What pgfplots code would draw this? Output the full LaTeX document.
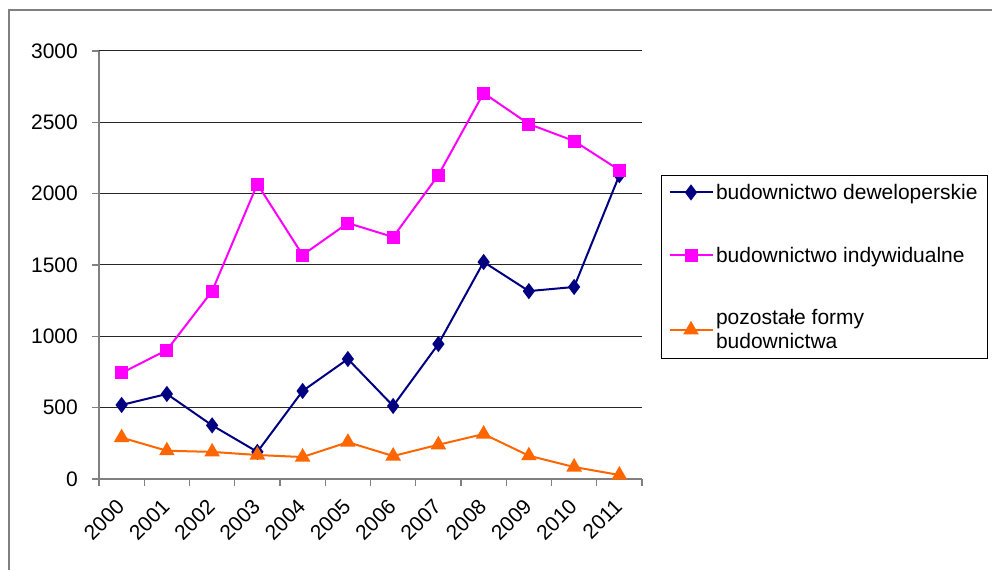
\documentclass[border=0pt]{standalone}
\usepackage{fontspec}
\setmainfont{Liberation Sans}
\usepackage{pgfplots}
\pgfplotsset{compat=1.18}
\definecolor{dev}{RGB}{0,0,128}
\definecolor{ind}{RGB}{255,0,255}
\definecolor{poz}{RGB}{255,102,0}
\definecolor{framec}{RGB}{128,128,128}
\newcommand{\tfont}{\fontsize{21bp}{24bp}\selectfont}
\begin{document}
\begin{tikzpicture}[x=1bp,y=1bp]
\useasboundingbox (0,0) rectangle (992,570);
\draw[framec, line width=2bp] (9,0) -- (9,560) -- (992,560);
\begin{axis}[
  at={(99bp,91bp)}, anchor=south west,
  scale only axis, width=543bp, height=428bp,
  xmin=0, xmax=12, ymin=0, ymax=3000,
  axis x line=bottom, axis y line=left,
  axis line style={framec, line width=1.3bp, -},
  tick align=outside, major tick length=7bp,
  tick style={framec, line width=1.3bp},
  ytick={0,500,...,3000},
  ymajorgrids, grid style={black!85, line width=1bp},
  xtick={0,...,12}, xticklabels={},
  extra x ticks={0.5,1.5,...,11.5},
  extra x tick labels={2000,2001,2002,2003,2004,2005,2006,2007,2008,2009,2010,2011},
  extra x tick style={major tick length=0pt, grid=none,
    tick label style={xshift=-1bp, yshift=-24bp, rotate=45, anchor=east, inner sep=0pt, font=\tfont}},
  every tick label/.append style={font=\tfont},
  yticklabel style={inner sep=0pt, anchor=east, xshift=-14bp, font=\tfont},
  legend style={at={(1.035,0.710)}, anchor=north west, draw=black, line width=1bp,
    font=\tfont, row sep=41bp, inner xsep=7bp, inner ysep=6bp,
    nodes={inner sep=2.5bp}},
  legend cell align=left,
  legend image code/.code={\draw[mark repeat=2,mark phase=2,#1] plot coordinates {(0bp,0bp) (21.5bp,0bp) (43bp,0bp)};},
  clip=false,
  /pgf/number format/1000 sep={},
  /pgf/number format/assume math mode=true,
]
\addplot[dev, line width=2bp, mark=diamond*, mark size=6.5bp, mark options={solid}] coordinates {
(0.5,519) (1.5,596) (2.5,376) (3.5,190) (4.5,617) (5.5,841) (6.5,512) (7.5,946) (8.5,1521) (9.5,1317) (10.5,1346) (11.5,2130)};
\addlegendentry{budownictwo deweloperskie}
\addplot[ind, line width=2bp, mark=square*, mark size=5.5bp] coordinates {
(0.5,743) (1.5,904) (2.5,1317) (3.5,2067) (4.5,1570) (5.5,1794) (6.5,1696) (7.5,2130) (8.5,2705) (9.5,2488) (10.5,2369) (11.5,2165)};
\addlegendentry{budownictwo indywidualne}
\addplot[poz, line width=2bp, mark=triangle*, mark size=7bp] coordinates {
(0.5,290) (1.5,198) (2.5,190) (3.5,168) (4.5,154) (5.5,258) (6.5,161) (7.5,240) (8.5,315) (9.5,163) (10.5,84) (11.5,28)};
\addlegendentry[align=left]{pozostałe formy\\budownictwa}
\end{axis}
\end{tikzpicture}
\end{document}
